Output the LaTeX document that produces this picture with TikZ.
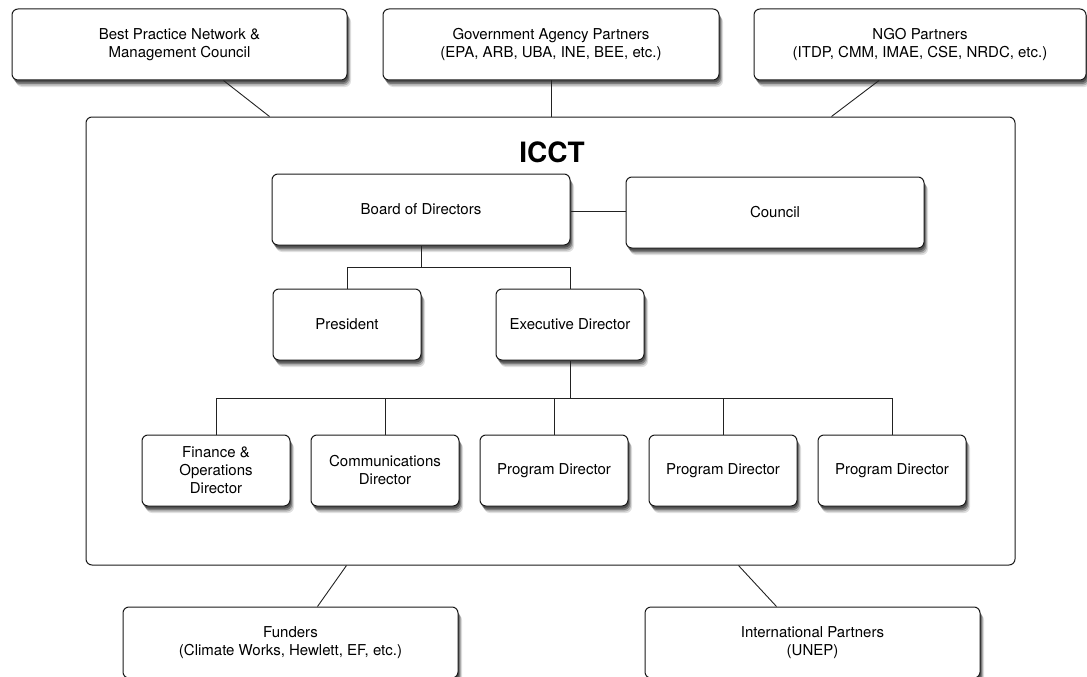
\documentclass[tikz,border=0pt]{standalone}
\usepackage{fontspec}
\setmainfont{TeX Gyre Heros}
\usepackage{xcolor}
\usepackage{tikz}
\usetikzlibrary{positioning,shadows}
\definecolor{edge}{HTML}{1A1A1A}
\definecolor{boxfill}{HTML}{FFFFFF}
\definecolor{link}{HTML}{222222}
\tikzset{
  orgbox/.style={draw=edge, line width=1pt, rounded corners=6pt, fill=boxfill,
    align=center, inner sep=2pt, font=\fontsize{15}{18}\selectfont,
    minimum height=71pt,
    drop shadow={shadow xshift=4pt, shadow yshift=-7pt, fill=black, opacity=0.12},
    drop shadow={shadow xshift=3pt, shadow yshift=-5.5pt, fill=black, opacity=0.2},
    drop shadow={shadow xshift=2pt, shadow yshift=-4pt, fill=black, opacity=0.3},
    drop shadow={shadow xshift=1pt, shadow yshift=-2.5pt, fill=black, opacity=0.35}},
  unitbox/.style={draw=edge, line width=1pt, rounded corners=6pt},
  conn/.style={draw=link, line width=0.9pt}
}
\begin{document}
\begin{tikzpicture}[x=1pt, y=-1pt]
  \useasboundingbox (0,0) rectangle (1087,677);

  % partners above
  \node[orgbox, minimum width=335pt] (bpn) at (179.5,44.5) {Best Practice Network \&\\Management Council};
  \node[orgbox, minimum width=336pt] (gov) at (551,44.5) {Government Agency Partners\\(EPA, ARB, UBA, INE, BEE, etc.)};
  \node[orgbox, minimum width=332pt] (ngo) at (920,44.5) {NGO Partners\\(ITDP, CMM, IMAE, CSE, NRDC, etc.)};

  % the organisation
  \node[unitbox, minimum width=929pt, minimum height=448pt] (icct) at (550.5,341) {};
  \node[font=\bfseries\fontsize{28}{30}\selectfont] (title) at (552,152) {ICCT};

  \node[orgbox, minimum width=298pt] (board) at (421,209.5) {Board of Directors};
  \node[orgbox, minimum width=298pt] (council) at (775,212.5) {Council};

  \node[orgbox, minimum width=148pt] (pres) at (347,324.5) {President};
  \node[orgbox, minimum width=148pt] (exec) at (570,324.5) {Executive Director};

  \node[orgbox, minimum width=148pt] (fin) at (216,470.5) {Finance \&\\Operations\\Director};
  \node[orgbox, minimum width=148pt, right=20pt of fin] (comm) {Communications\\Director};
  \node[orgbox, minimum width=148pt, right=20pt of comm] (pd1) {Program Director};
  \node[orgbox, minimum width=148pt, right=20pt of pd1] (pd2) {Program Director};
  \node[orgbox, minimum width=148pt, right=20pt of pd2] (pd3) {Program Director};

  % partners below
  \node[orgbox, minimum width=335pt] (fund) at (290.5,642.5) {Funders\\(Climate Works, Hewlett, EF, etc.)};
  \node[orgbox, minimum width=335pt] (intl) at (812.5,642.5) {International Partners\\(UNEP)};

  % links to partners
  \draw[conn] ([xshift=44pt]bpn.south) -- ([xshift=-281pt]icct.north);
  \draw[conn] (gov.south) -- (gov.south |- icct.north);
  \draw[conn] ([xshift=-41pt]ngo.south) -- ([xshift=281pt]icct.north);
  \draw[conn] ([xshift=-204pt]icct.south) -- ([xshift=27pt]fund.north);
  \draw[conn] ([xshift=188pt]icct.south) -- ([xshift=-36pt]intl.north);

  % internal structure
  \draw[conn] (board.east |- 0,211) -- (council.west |- 0,211);
  \coordinate (topbus) at ([yshift=-22pt]board.south);
  \draw[conn] (board.south) -- (topbus) -| (pres.north);
  \draw[conn] (topbus) -| (exec.north);
  \coordinate (lowbus) at ([yshift=-38pt]exec.south);
  \draw[conn] (exec.south) -- (lowbus);
  \foreach \d in {fin,comm,pd1,pd2,pd3}
    \draw[conn] (lowbus) -| (\d.north);
\end{tikzpicture}
\end{document}
